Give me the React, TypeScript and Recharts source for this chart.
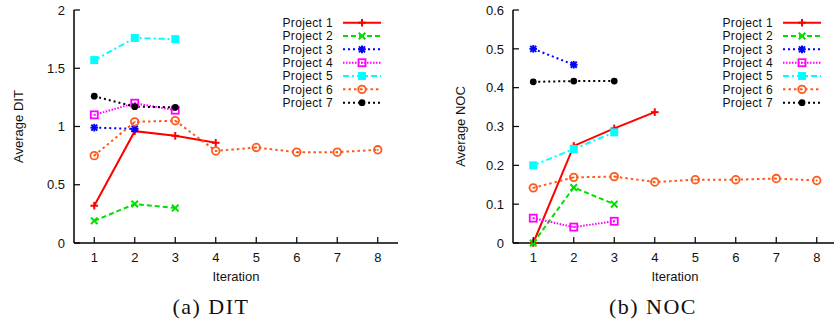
import React from "react";
import { LineChart, Line, XAxis, YAxis } from "recharts";

const iterations = [1, 2, 3, 4, 5, 6, 7, 8];
const projectNames = ["Project 1", "Project 2", "Project 3", "Project 4", "Project 5", "Project 6", "Project 7"];

// (a) DIT
const ditProject1 = [0.32, 0.96, 0.92, 0.86];
const ditProject2 = [0.19, 0.335, 0.3];
const ditProject3 = [0.99, 0.98];
const ditProject4 = [1.1, 1.2, 1.14];
const ditProject5 = [1.57, 1.76, 1.75];
const ditProject6 = [0.75, 1.04, 1.05, 0.79, 0.82, 0.78, 0.78, 0.8];
const ditProject7 = [1.26, 1.17, 1.165];
const ditTicks = [0, 0.5, 1, 1.5, 2];

// (b) NOC
const nocProject1 = [0, 0.25, 0.295, 0.337];
const nocProject2 = [0, 0.143, 0.1];
const nocProject3 = [0.5, 0.459];
const nocProject4 = [0.064, 0.041, 0.056];
const nocProject5 = [0.2, 0.242, 0.285];
const nocProject6 = [0.142, 0.169, 0.171, 0.157, 0.163, 0.163, 0.166, 0.161];
const nocProject7 = [0.415, 0.417, 0.417];
const nocTicks = [0, 0.1, 0.2, 0.3, 0.4, 0.5, 0.6];

const FONT = "'Liberation Sans', Arial, Helvetica, sans-serif";
const SERIF = "'Liberation Serif', 'Times New Roman', serif";
const Y_MARGIN = 9;
const X_MARGIN = 10;

type MarkerKind = "plus" | "cross" | "star" | "openSquare" | "filledSquare" | "openCircle" | "filledCircle";

const styles: { color: string; dash?: string; marker: MarkerKind }[] = [
  { color: "#ff0000", marker: "plus" },
  { color: "#00e000", dash: "5 3", marker: "cross" },
  { color: "#0000ff", dash: "2 3", marker: "star" },
  { color: "#ff00ff", dash: "1.5 1.5", marker: "openSquare" },
  { color: "#00ffff", dash: "6 3 2 3", marker: "filledSquare" },
  { color: "#ff5a1e", dash: "2.5 3", marker: "openCircle" },
  { color: "#000000", dash: "2 3", marker: "filledCircle" },
];

function buildRows(series: number[][]) {
  return iterations.map((it, i) => {
    const row: any = { iteration: it };
    series.forEach((s, k) => {
      if (i < s.length) row["p" + (k + 1)] = s[i];
    });
    return row;
  });
}

const ditRows = buildRows([ditProject1, ditProject2, ditProject3, ditProject4, ditProject5, ditProject6, ditProject7]);
const nocRows = buildRows([nocProject1, nocProject2, nocProject3, nocProject4, nocProject5, nocProject6, nocProject7]);

function Marker({ kind, x, y, color }: { kind: MarkerKind; x: number; y: number; color: string }) {
  const s = 3.8;
  switch (kind) {
    case "plus":
      return (
        <g stroke={color} strokeWidth={2}>
          <line x1={x - s} x2={x + s} y1={y} y2={y} />
          <line x1={x} x2={x} y1={y - s} y2={y + s} />
        </g>
      );
    case "cross":
      return (
        <g stroke={color} strokeWidth={2}>
          <line x1={x - 3.3} x2={x + 3.3} y1={y - 3.3} y2={y + 3.3} />
          <line x1={x - 3.3} x2={x + 3.3} y1={y + 3.3} y2={y - 3.3} />
        </g>
      );
    case "star":
      return (
        <g stroke={color} strokeWidth={2}>
          <line x1={x - s} x2={x + s} y1={y} y2={y} />
          <line x1={x} x2={x} y1={y - s} y2={y + s} />
          <line x1={x - 3} x2={x + 3} y1={y - 3} y2={y + 3} />
          <line x1={x - 3} x2={x + 3} y1={y + 3} y2={y - 3} />
        </g>
      );
    case "openSquare":
      return (
        <g>
          <rect x={x - 3.5} y={y - 3.5} width={7} height={7} fill="none" stroke={color} strokeWidth={1.8} />
          <circle cx={x} cy={y} r={0.9} fill={color} />
        </g>
      );
    case "filledSquare":
      return <rect x={x - 4} y={y - 4} width={8} height={8} fill={color} />;
    case "openCircle":
      return (
        <g>
          <circle cx={x} cy={y} r={3.8} fill="none" stroke={color} strokeWidth={1.8} />
          <circle cx={x} cy={y} r={0.9} fill={color} />
        </g>
      );
    default:
      return <circle cx={x} cy={y} r={3.4} fill={color} />;
  }
}

const YTick = (props: any) => {
  const { x, y, payload } = props;
  return (
    <g>
      <line x1={x + Y_MARGIN} x2={x + Y_MARGIN + 6} y1={y} y2={y} stroke="#000" strokeWidth={1.2} />
      <text x={x} y={y} dy="0.36em" textAnchor="end" fontSize={13} fontFamily={FONT} fill="#111">
        {payload.value}
      </text>
    </g>
  );
};

const XTick = (props: any) => {
  const { x, y, payload } = props;
  return (
    <g>
      <line x1={x} x2={x} y1={y - X_MARGIN} y2={y - X_MARGIN - 6} stroke="#000" strokeWidth={1.2} />
      <text x={x} y={y} dy="0.72em" textAnchor="middle" fontSize={13} fontFamily={FONT} fill="#111">
        {payload.value}
      </text>
    </g>
  );
};

// key drawn in the page overlay; textEnd = right edge of the names
function LegendKey({ textEnd, top }: { textEnd: number; top: number }) {
  return (
    <g>
      {projectNames.map((name, i) => {
        const cy = top + i * 13.33;
        const st = styles[i];
        return (
          <g key={name}>
            <text x={textEnd} y={cy} dy="0.36em" textAnchor="end" fontSize={12} letterSpacing={0.35} fontFamily={FONT} fill="#111">
              {name}
            </text>
            <line x1={textEnd + 10} x2={textEnd + 48} y1={cy} y2={cy} stroke={st.color} strokeWidth={2} strokeDasharray={st.dash} />
            <Marker kind={st.marker} x={textEnd + 29} y={cy} color={st.color} />
          </g>
        );
      })}
    </g>
  );
}

function Panel({
  rows,
  ticks,
  yMax,
  yLabel,
  yAxisWidth,
  labelX,
  marginRight,
}: {
  rows: any[];
  ticks: number[];
  yMax: number;
  yLabel: string;
  yAxisWidth: number;
  labelX: number;
  marginRight: number;
}) {
  return (
    <LineChart width={420} height={290} data={rows} margin={{ top: 10, right: marginRight, bottom: 0, left: 0 }}>
      <XAxis
        dataKey="iteration"
        type="number"
        domain={[0.5, 8.5]}
        ticks={iterations}
        height={47}
        tickSize={0}
        tickMargin={X_MARGIN}
        tickLine={false}
        tick={<XTick />}
        axisLine={{ stroke: "#000", strokeWidth: 1.5 }}
        label={{ value: "Iteration", position: "insideBottom", offset: 9, fontSize: 13, fontFamily: FONT, fill: "#111" }}
      />
      <YAxis
        type="number"
        domain={[0, yMax]}
        ticks={ticks}
        width={yAxisWidth}
        tickSize={0}
        tickMargin={Y_MARGIN}
        tickLine={false}
        tick={<YTick />}
        axisLine={{ stroke: "#000", strokeWidth: 1.5 }}
        label={(p: any) => {
          const vb = p.viewBox || {};
          const cy = (vb.y || 0) + (vb.height || 0) / 2;
          return (
            <text
              x={labelX}
              y={cy}
              dy="0.36em"
              textAnchor="middle"
              transform={`rotate(-90 ${labelX} ${cy})`}
              fontSize={13}
              fontFamily={FONT}
              fill="#111"
            >
              {yLabel}
            </text>
          );
        }}
      />
      {styles.map((st, k) => (
        <Line
          key={k}
          dataKey={"p" + (k + 1)}
          name={projectNames[k]}
          stroke={st.color}
          strokeWidth={2}
          strokeDasharray={st.dash}
          isAnimationActive={false}
          activeDot={false}
          dot={(p: any) => {
            if (p.cx == null || p.cy == null || p.value == null) return <g key={p.key || p.index} />;
            return (
              <g key={p.key || p.index}>
                <Marker kind={st.marker} x={p.cx} y={p.cy} color={st.color} />
              </g>
            );
          }}
        />
      ))}
    </LineChart>
  );
}

export default function App() {
  return (
    <div
      style={{ position: "absolute", left: 0, top: 0, width: 834, height: 325, overflow: "hidden", background: "#fff" }}
    >
      <div style={{ position: "absolute", left: 0, top: 0 }}>
        <Panel rows={ditRows} ticks={ditTicks} yMax={2} yLabel="Average DIT" yAxisWidth={74} labelX={18} marginRight={22} />
      </div>
      <div style={{ position: "absolute", left: 420, top: 0 }}>
        <Panel rows={nocRows} ticks={nocTicks} yMax={0.6} yLabel="Average NOC" yAxisWidth={93} labelX={40} marginRight={3} />
      </div>
      <svg width={834} height={325} style={{ position: "absolute", left: 0, top: 0, pointerEvents: "none" }}>
        <LegendKey textEnd={333} top={22.7} />
        <LegendKey textEnd={773} top={22.7} />
        <text x={211} y={314} textAnchor="middle" fontSize={22} letterSpacing={1.5} fontFamily={SERIF} fill="#111">
          (a) DIT
        </text>
        <text x={653} y={314} textAnchor="middle" fontSize={22} letterSpacing={1.5} fontFamily={SERIF} fill="#111">
          (b) NOC
        </text>
      </svg>
    </div>
  );
}
